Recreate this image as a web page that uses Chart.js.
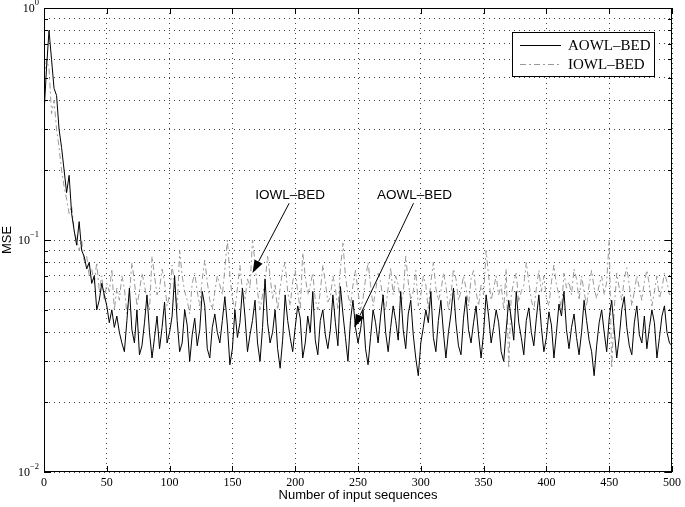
<!DOCTYPE html>
<html>
<head>
<meta charset="utf-8">
<script src="https://cdn.jsdelivr.net/npm/chart.js@4/dist/chart.umd.min.js"></script>
<style>
  html, body { margin: 0; padding: 0; background: #fff; }
  #wrap { width: 685px; height: 507px; }
</style>
</head>
<body>
<div id="wrap"><canvas id="myChart" width="685" height="507"></canvas></div>
<script>
// x goes 0..500, one value every 2 input sequences
var xStep = 2;

var aowl = [
    0.35, 0.55, 0.80, 0.60, 0.45, 0.42, 0.30, 0.25, 0.20, 0.16,
    0.19, 0.13, 0.11, 0.095, 0.12, 0.09, 0.085, 0.075, 0.08, 0.065,
    0.07, 0.05, 0.055, 0.065, 0.058, 0.052, 0.044, 0.05, 0.042, 0.047,
    0.04, 0.036, 0.033, 0.045, 0.062, 0.041, 0.036, 0.05, 0.032, 0.035,
    0.044, 0.058, 0.04, 0.031, 0.038, 0.047, 0.034, 0.042, 0.054, 0.036,
    0.04, 0.047, 0.07, 0.045, 0.033, 0.036, 0.05, 0.043, 0.03, 0.039,
    0.046, 0.035, 0.041, 0.06, 0.052, 0.034, 0.031, 0.042, 0.048, 0.04,
    0.036, 0.045, 0.057, 0.043, 0.029, 0.034, 0.05, 0.038, 0.044, 0.062,
    0.047, 0.033, 0.039, 0.045, 0.055, 0.036, 0.03, 0.042, 0.068, 0.044,
    0.036, 0.04, 0.05, 0.034, 0.028, 0.037, 0.058, 0.045, 0.038, 0.033,
    0.042, 0.052, 0.046, 0.031, 0.036, 0.047, 0.04, 0.06, 0.037, 0.032,
    0.045, 0.05, 0.039, 0.034, 0.041, 0.058, 0.044, 0.035, 0.063, 0.048,
    0.038, 0.03, 0.045, 0.055, 0.042, 0.036, 0.041, 0.05, 0.034, 0.029,
    0.038, 0.05, 0.044, 0.036, 0.047, 0.058, 0.04, 0.033, 0.042, 0.052,
    0.045, 0.037, 0.06, 0.041, 0.034, 0.048, 0.055, 0.039, 0.031, 0.026,
    0.036, 0.042, 0.05, 0.044, 0.06, 0.038, 0.033, 0.045, 0.055, 0.04,
    0.031, 0.04, 0.048, 0.062, 0.044, 0.035, 0.032, 0.046, 0.057, 0.041,
    0.036, 0.044, 0.052, 0.039, 0.031, 0.04, 0.058, 0.047, 0.036, 0.042,
    0.05, 0.044, 0.033, 0.03, 0.041, 0.055, 0.046, 0.037, 0.06, 0.044,
    0.038, 0.032, 0.045, 0.051, 0.04, 0.035, 0.046, 0.058, 0.042, 0.033,
    0.038, 0.049, 0.043, 0.031, 0.04, 0.053, 0.047, 0.06, 0.041, 0.034,
    0.042, 0.048, 0.038, 0.032, 0.04, 0.055, 0.045, 0.037, 0.033, 0.026,
    0.035, 0.044, 0.05, 0.04, 0.033, 0.046, 0.055, 0.041, 0.031, 0.038,
    0.05, 0.057, 0.042, 0.035, 0.032, 0.044, 0.052, 0.039, 0.036, 0.047,
    0.034, 0.042, 0.05, 0.044, 0.031, 0.038, 0.047, 0.052, 0.04, 0.036,
    0.035
];

var iowl = [
    0.5, 0.6, 0.55, 0.35, 0.4, 0.3, 0.25, 0.2, 0.17, 0.15,
    0.13, 0.14, 0.11, 0.1, 0.09, 0.1, 0.08, 0.085, 0.07, 0.075,
    0.065, 0.08, 0.06, 0.07, 0.055, 0.065, 0.06, 0.075, 0.05, 0.062,
    0.055, 0.07, 0.062, 0.048, 0.058, 0.08, 0.066, 0.052, 0.06, 0.072,
    0.064, 0.055, 0.05, 0.085, 0.07, 0.058, 0.062, 0.075, 0.066, 0.052,
    0.058, 0.078, 0.064, 0.05, 0.09, 0.07, 0.06, 0.055, 0.048, 0.065,
    0.072, 0.06, 0.052, 0.068, 0.082, 0.066, 0.055, 0.05, 0.06, 0.07,
    0.064, 0.058, 0.075, 0.1, 0.07, 0.056, 0.05, 0.062, 0.078, 0.06,
    0.055, 0.068, 0.062, 0.1, 0.08, 0.06, 0.05, 0.058, 0.066, 0.085,
    0.07, 0.056, 0.064, 0.05, 0.062, 0.074, 0.08, 0.06, 0.052, 0.066,
    0.074, 0.06, 0.05, 0.088, 0.07, 0.058, 0.064, 0.072, 0.055, 0.05,
    0.06, 0.078, 0.066, 0.054, 0.057, 0.07, 0.062, 0.05, 0.075, 0.097,
    0.07, 0.058, 0.052, 0.064, 0.074, 0.06, 0.05, 0.056, 0.068, 0.08,
    0.064, 0.052, 0.06, 0.072, 0.066, 0.055, 0.05, 0.062, 0.076, 0.058,
    0.07, 0.064, 0.054, 0.058, 0.085, 0.066, 0.055, 0.06, 0.074, 0.052,
    0.058, 0.07, 0.064, 0.05, 0.066, 0.08, 0.062, 0.055, 0.06, 0.072,
    0.064, 0.05, 0.058, 0.075, 0.068, 0.055, 0.06, 0.07, 0.062, 0.052,
    0.068, 0.074, 0.06, 0.052, 0.064, 0.058, 0.09, 0.07, 0.055, 0.062,
    0.07, 0.058, 0.064, 0.05, 0.075, 0.028, 0.058, 0.066, 0.072, 0.054,
    0.06, 0.064, 0.08, 0.066, 0.055, 0.05, 0.062, 0.074, 0.06, 0.07,
    0.056, 0.052, 0.066, 0.078, 0.064, 0.058, 0.05, 0.072, 0.062, 0.066,
    0.058, 0.075, 0.068, 0.055, 0.07, 0.06, 0.052, 0.064, 0.074, 0.062,
    0.056, 0.064, 0.07, 0.058, 0.066, 0.1, 0.028, 0.05, 0.072, 0.062,
    0.055, 0.068, 0.076, 0.064, 0.052, 0.06, 0.07, 0.062, 0.055, 0.066,
    0.074, 0.064, 0.052, 0.06, 0.07, 0.056, 0.062, 0.072, 0.066, 0.058,
    0.06
];

var yGrid = [0.01, 0.02, 0.03, 0.04, 0.05, 0.06, 0.07, 0.08, 0.09,
             0.1, 0.2, 0.3, 0.4, 0.5, 0.6, 0.7, 0.8, 0.9, 1];
var yDecades = [0.01, 0.1, 1];
var yDecadeExp = ["\u22122", "\u22121", "0"];

var seriesNames = ["AOWL\u2013BED", "IOWL\u2013BED"];

// arrow notes, in data units: label centre and arrow tip
var notes = [
    { text: "IOWL\u2013BED", x: 196, y: 0.156, tipX: 166, tipY: 0.072 },
    { text: "AOWL\u2013BED", x: 295, y: 0.156, tipX: 247, tipY: 0.042 }
];

function toPoints(arr) {
    return arr.map(function (v, i) { return { x: i * xStep, y: v }; });
}

var serif = "'Liberation Serif', 'Times New Roman', serif";
var sans = "'Liberation Sans', Arial, Helvetica, sans-serif";

var framePlugin = {
    id: "frame",
    afterDraw: function (chart) {
        var c = chart.ctx;
        var a = chart.chartArea;
        var xs = chart.scales.x, ys = chart.scales.y;
        c.save();
        c.strokeStyle = "#000";
        c.lineWidth = 1;
        c.setLineDash([]);
        c.strokeRect(Math.round(a.left) + 0.5, Math.round(a.top) + 0.5,
            Math.round(a.right - a.left) - 1, Math.round(a.bottom - a.top) - 1);

        // inward tick marks
        c.beginPath();
        xs.ticks.forEach(function (t) {
            var px = Math.round(xs.getPixelForValue(t.value)) + 0.5;
            c.moveTo(px, a.bottom); c.lineTo(px, a.bottom - 6);
            c.moveTo(px, a.top); c.lineTo(px, a.top + 6);
        });
        yGrid.forEach(function (v) {
            var py = Math.round(ys.getPixelForValue(v)) + 0.5;
            var len = yDecades.indexOf(v) >= 0 ? 7 : 4;
            c.moveTo(a.left, py); c.lineTo(a.left + len, py);
            c.moveTo(a.right, py); c.lineTo(a.right - len, py);
        });
        c.stroke();

        // y labels as 10 with exponent
        c.fillStyle = "#000";
        c.textBaseline = "middle";
        yDecades.forEach(function (v, i) {
            var py = ys.getPixelForValue(v);
            c.font = "8.5px " + serif;
            var ew = c.measureText(yDecadeExp[i]).width;
            var ex = a.left - 5 - ew;
            c.textAlign = "left";
            c.fillText(yDecadeExp[i], ex, py - 5);
            c.font = "12px " + serif;
            c.textAlign = "right";
            c.fillText("10", ex, py + 1);
        });

        // arrow notes
        c.font = "13.5px " + sans;
        c.textAlign = "center";
        notes.forEach(function (n) {
            var tx = xs.getPixelForValue(n.x), ty = ys.getPixelForValue(n.y);
            c.fillText(n.text, tx, ty);
            var sx = tx - 1, sy = ty + 8;
            var ex2 = xs.getPixelForValue(n.tipX), ey2 = ys.getPixelForValue(n.tipY);
            var ang = Math.atan2(ey2 - sy, ex2 - sx);
            var hl = 13, hw = 4.5;
            var bx = ex2 - hl * Math.cos(ang), by = ey2 - hl * Math.sin(ang);
            c.beginPath();
            c.moveTo(sx, sy); c.lineTo(bx, by);
            c.stroke();
            c.beginPath();
            c.moveTo(ex2, ey2);
            c.lineTo(bx + hw * Math.sin(ang), by - hw * Math.cos(ang));
            c.lineTo(bx - hw * Math.sin(ang), by + hw * Math.cos(ang));
            c.closePath();
            c.fill();
        });

        // legend box
        var lx = 512, ly = 32, lw = 142, lh = 44;
        c.fillStyle = "#fff";
        c.fillRect(lx, ly, lw, lh);
        c.strokeStyle = "#000";
        c.strokeRect(lx + 0.5, ly + 0.5, lw, lh);
        chart.data.datasets.forEach(function (ds, i) {
            var ry = ly + 13.5 + i * 19;
            c.strokeStyle = ds.borderColor;
            c.setLineDash(ds.borderDash || []);
            c.beginPath();
            c.moveTo(lx + 8, ry); c.lineTo(lx + 49, ry);
            c.stroke();
            c.setLineDash([]);
            c.fillStyle = "#000";
            c.font = "15px " + serif;
            c.textAlign = "left";
            c.fillText(ds.label, lx + 56, ry + 1);
        });
        c.restore();
    }
};

var ctx = document.getElementById("myChart");
var myChart = new Chart(ctx, {
    type: "line",
    data: {
        datasets: [{
            label: seriesNames[0],
            data: toPoints(aowl),
            borderColor: "#000",
            borderWidth: 1,
            pointRadius: 0,
            tension: 0,
        }, {
            label: seriesNames[1],
            data: toPoints(iowl),
            borderColor: "#999",
            borderWidth: 1,
            borderDash: [6, 3, 2, 3],
            pointRadius: 0,
            tension: 0,
        }],
    },
    options: {
        responsive: false,
        maintainAspectRatio: false,
        animation: false,
        layout: { padding: { left: 0, right: 7, top: 8, bottom: 0 } },
        plugins: {
            legend: { display: false },
            tooltip: { enabled: false },
        },
        scales: {
            x: {
                type: "linear",
                min: 0,
                max: 500,
                ticks: {
                    stepSize: 50,
                    padding: 4,
                    color: "#000",
                    font: { family: serif, size: 12 },
                    maxRotation: 0,
                },
                grid: { color: "#444", lineWidth: 1, drawTicks: false },
                border: { display: false, dash: [1, 4] },
                title: {
                    display: true,
                    text: "Number of input sequences",
                    color: "#000",
                    font: { family: sans, size: 13 },
                    padding: { top: 0, bottom: 4 },
                },
                afterFit: function (s) { s.height = 35; },
            },
            y: {
                type: "logarithmic",
                min: 0.01,
                max: 1,
                afterBuildTicks: function (s) {
                    s.ticks = yGrid.map(function (v) { return { value: v }; });
                },
                ticks: { display: false, autoSkip: false },
                grid: { color: "#444", lineWidth: 1, drawTicks: false },
                border: { display: false, dash: [1, 4] },
                title: {
                    display: true,
                    text: "MSE",
                    color: "#000",
                    font: { family: sans, size: 13 },
                    padding: { top: 0, bottom: 0 },
                },
                afterFit: function (s) { s.width = 44; },
            },
        },
    },
    plugins: [framePlugin],
});
</script>
</body>
</html>
